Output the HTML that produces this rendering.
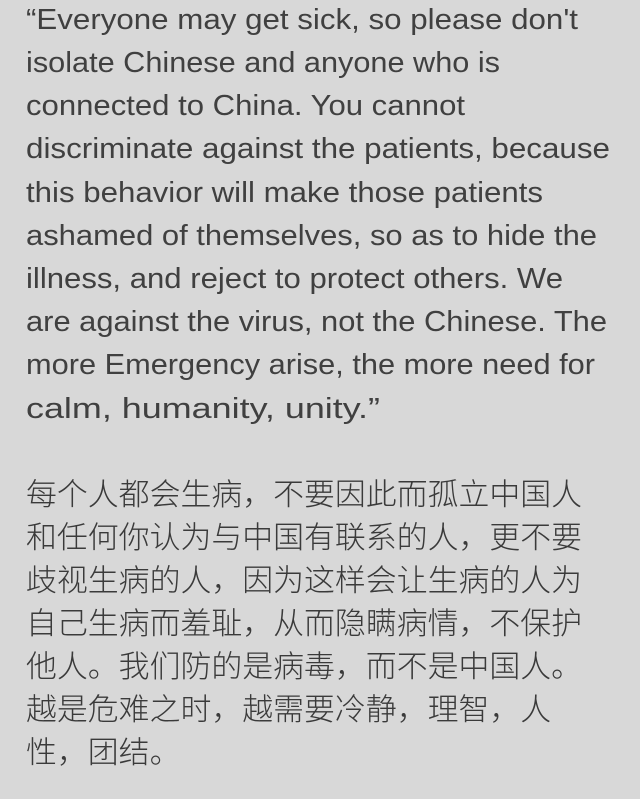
<!DOCTYPE html>
<html><head><meta charset="utf-8"><style>
html,body{margin:0;padding:0;background:#d8d8d8;}
svg{display:block}
.en{font-family:"Liberation Sans",sans-serif;font-size:28.5px;fill:#404040;}
.zh{font-family:"Liberation Sans","Noto Sans CJK SC",sans-serif;font-size:30.9px;font-weight:300;fill:#3a3a3a;}
</style></head><body>
<svg width="640" height="799" viewBox="0 0 640 799">
<rect width="640" height="799" fill="#d8d8d8"/>
<g>
<text class="en" x="26" y="29" textLength="552" lengthAdjust="spacingAndGlyphs">“Everyone may get sick, so please don't</text>
<text class="en" x="26" y="72" textLength="474" lengthAdjust="spacingAndGlyphs">isolate Chinese and anyone who is</text>
<text class="en" x="26" y="115" textLength="439" lengthAdjust="spacingAndGlyphs">connected to China. You cannot</text>
<text class="en" x="26" y="158" textLength="584" lengthAdjust="spacingAndGlyphs">discriminate against the patients, because</text>
<text class="en" x="26" y="202" textLength="517" lengthAdjust="spacingAndGlyphs">this behavior will make those patients</text>
<text class="en" x="26" y="245" textLength="571" lengthAdjust="spacingAndGlyphs">ashamed of themselves, so as to hide the</text>
<text class="en" x="26" y="288" textLength="537" lengthAdjust="spacingAndGlyphs">illness, and reject to protect others. We</text>
<text class="en" x="26" y="331" textLength="581" lengthAdjust="spacingAndGlyphs">are against the virus, not the Chinese. The</text>
<text class="en" x="26" y="374" textLength="569" lengthAdjust="spacingAndGlyphs">more Emergency arise, the more need for</text>
<text class="en" x="26" y="418" textLength="354" lengthAdjust="spacingAndGlyphs">calm, humanity, unity.”</text>
</g>
<g>
<text class="zh" x="26" y="505">每个人都会生病，不要因此而孤立中国人</text>
<text class="zh" x="26" y="548">和任何你认为与中国有联系的人，更不要</text>
<text class="zh" x="26" y="591">歧视生病的人，因为这样会让生病的人为</text>
<text class="zh" x="26" y="634">自己生病而羞耻，从而隐瞒病情，不保护</text>
<text class="zh" x="26" y="677">他人。我们防的是病毒，而不是中国人。</text>
<text class="zh" x="26" y="720">越是危难之时，越需要冷静，理智，人</text>
<text class="zh" x="26" y="763">性，团结。</text>
</g>
</svg>
</body></html>
